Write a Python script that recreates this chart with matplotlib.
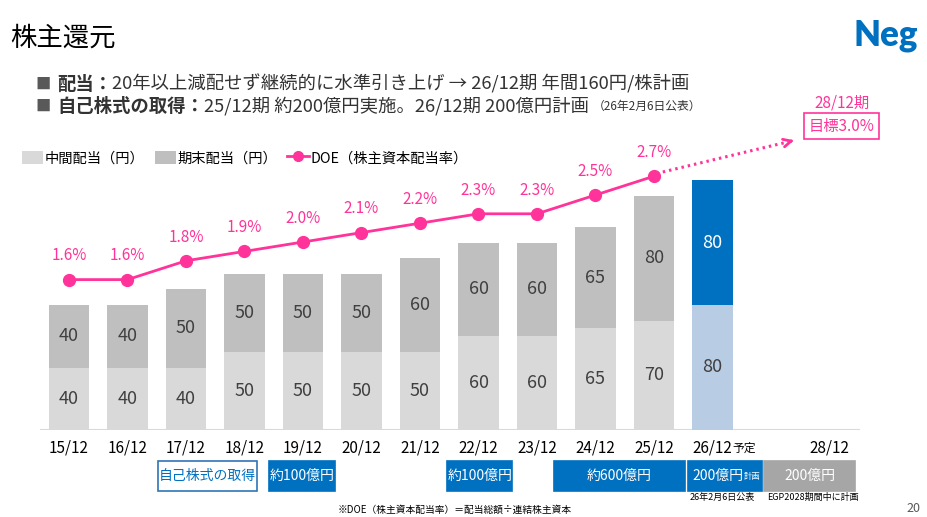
import matplotlib
matplotlib.use("Agg")
import matplotlib.pyplot as plt
from matplotlib.patches import Patch, Rectangle
from matplotlib.lines import Line2D
from matplotlib.transforms import blended_transform_factory

plt.rcParams['font.family'] = ['Noto Sans CJK JP', 'DejaVu Sans']

# data
periods = ['15/12', '16/12', '17/12', '18/12', '19/12', '20/12', '21/12',
           '22/12', '23/12', '24/12', '25/12', '26/12', '28/12']
interim = [40, 40, 40, 50, 50, 50, 50, 60, 60, 65, 70, 80]
final = [40, 40, 50, 50, 50, 50, 60, 60, 60, 65, 80, 80]
doe = [1.6, 1.6, 1.8, 1.9, 2.0, 2.1, 2.2, 2.3, 2.3, 2.5, 2.7]
doe_target = 3.0
buyback = ['自己株式の取得', '約100億円', '約100億円', '約600億円', '200億円', '200億円']

W, H = 927, 517
PINK = '#FF3399'
BLUE = '#0070C0'
TXT = '#404040'

fig = plt.figure(figsize=(W / 100, H / 100), dpi=100)
fig.patch.set_facecolor('white')


def fx(x):
    return x / W


def fy(y):
    return 1 - y / H


# axes placed in pixel terms: baseline at y=430, left 30, right 900
ax = fig.add_axes([fx(30), fy(430), fx(870), 340 / H])
ax2 = ax.twinx()
ax.set_xlim((30 - 69) / 58.5, (900 - 69) / 58.5)
ax.set_ylim(0, 340 / 1.5625)
ax2.set_ylim(0, 340 / 94.0)
for a in (ax, ax2):
    for s in a.spines.values():
        s.set_visible(False)
    a.tick_params(left=False, right=False, labelleft=False, labelright=False)
ax.set_zorder(1)
ax2.set_zorder(2)
ax.patch.set_visible(False)

# positions: 15/12..26/12 then a gap for 27/12
pos = list(range(len(interim))) + [len(interim) + 1]
bw = 0.684
bar_pos = pos[:len(interim)]
c_low = ['#D9D9D9'] * 11 + ['#B8CCE4']
c_high = ['#BFBFBF'] * 11 + [BLUE]
ax.bar(bar_pos, interim, width=bw, color=c_low, zorder=2)
ax.bar(bar_pos, final, width=bw, bottom=interim, color=c_high, zorder=2)
for i, (a, b) in enumerate(zip(interim, final)):
    ax.text(bar_pos[i], a / 2, str(a), ha='center', va='center', fontsize=13, color=TXT, zorder=3)
    ax.text(bar_pos[i], a + b / 2, str(b), ha='center', va='center', fontsize=13,
            color='white' if i == len(interim) - 1 else TXT, zorder=3)

ax.hlines(0, -0.5, 13.52, color='#D9D9D9', lw=1.5, zorder=1)

ax.set_xticks(pos)
ax.set_xticklabels(periods, fontsize=11, color='black')
ax.tick_params(axis='x', length=0, pad=7)

# "予定" next to 26/12
bt = blended_transform_factory(ax.transData, fig.transFigure)
ax.text(11.34, fy(448), '予定', transform=bt, fontsize=8.5, ha='left', va='center', color='black')

# DOE line
doe_x = list(range(len(doe)))
ax2.plot(doe_x, doe, color=PINK, lw=2, marker='o', ms=8.5, zorder=5)
for x, v in zip(doe_x, doe):
    ax2.annotate(f'{v:.1f}%', (x, v), xytext=(0, 17), textcoords='offset points',
                 ha='center', va='center', fontsize=11, color=PINK)

# target arrow
end = (12.44, 3.09)
ax2.plot([10.15, end[0] - 0.05], [2.745, end[1] - 0.01], color=PINK, lw=2.2,
         ls=(0, (0.8, 1.3)), zorder=5)
ax2.annotate('', xy=end, xytext=(end[0] - 0.15, end[1] - 0.025),
             arrowprops=dict(arrowstyle='->', color=PINK, lw=2, mutation_scale=14))
ax2.text(13.21, doe_target + 0.23, f'目標{doe_target:.1f}%', ha='center', va='center',
         fontsize=11, color=PINK,
         bbox=dict(boxstyle='square,pad=0.3', fc='white', ec=PINK, lw=1.2))
ax2.text(13.21, doe_target + 0.48, '28/12期', ha='center', va='center', fontsize=11, color=PINK)

# buyback boxes under the axis
spans = [(1.517, 3.22), (3.42, 4.55), (6.46, 7.58), (8.29, 10.53), (10.58, 11.85), (11.88, 13.44)]
styles = ['outline', 'blue', 'blue', 'blue', 'blue', 'gray']
y0, y1 = fy(490.5), fy(461)
for (a, b), lab, st in zip(spans, buyback, styles):
    if st == 'outline':
        fc, ec, tc = 'white', '#2E75B6', BLUE
    elif st == 'blue':
        fc, ec, tc = BLUE, BLUE, 'white'
    else:
        fc, ec, tc = '#A6A6A6', '#A6A6A6', 'white'
    r = Rectangle((a, y0), b - a, y1 - y0, transform=bt, fc=fc, ec=ec, lw=1.2, clip_on=False)
    ax.add_patch(r)
    cx = (a + b) / 2
    if st == 'blue' and lab == '200億円':
        ax.text(cx - 0.12, (y0 + y1) / 2, lab, transform=bt, ha='center', va='center',
                fontsize=10, color=tc)
        ax.text(cx + 0.46, (y0 + y1) / 2 - 0.002, '計画', transform=bt, ha='center', va='center',
                fontsize=6, color=tc)
    else:
        ax.text(cx, (y0 + y1) / 2, lab, transform=bt, ha='center', va='center',
                fontsize=10, color=tc)

fig.text(fx(722), fy(497), '26年2月6日公表', ha='center', va='center', fontsize=6.5, color='black')
fig.text(fx(813), fy(497), 'EGP2028期間中に計画', ha='center', va='center', fontsize=6.5, color='black')
fig.text(fx(455), fy(510), '※DOE（株主資本配当率）＝配当総額÷連結株主資本', ha='center', va='center',
         fontsize=7, color='black')
fig.text(fx(913), fy(509), '20', ha='center', va='center', fontsize=9, color='#595959')

# title and logo
fig.text(fx(10), fy(38), '株主還元', ha='left', va='center', fontsize=19, color='black')
fig.text(fx(918), fy(36), 'Neg', ha='right', va='center', fontsize=25, color=BLUE,
         family=['Lato', 'DejaVu Sans'], weight='heavy')

# bullet lines with mixed weights
renderer = fig.canvas.get_renderer()


def run_text(x, y, parts):
    for s, kw in parts:
        t = fig.text(fx(x), fy(y), s, ha='left', va='center', **kw)
        x += t.get_window_extent(renderer).width


reg = dict(fontsize=13.2, color='#333333')
bold = dict(fontsize=13.2, color='#333333', weight='bold')
sq = dict(fontsize=11, color='#595959')
for y, parts in [(84, [('配当：', bold),
                       ('20年以上減配せず継続的に水準引き上げ → 26/12期 年間160円/株計画', reg)]),
                 (106, [('自己株式の取得：', bold),
                        ('25/12期 約200億円実施。26/12期 200億円計画 ', reg),
                        ('（26年2月6日公表）', dict(fontsize=8.5, color='#333333'))])]:
    fig.text(fx(35), fy(y), '■', ha='left', va='center', **sq)
    run_text(57, y, parts)

# legend
handles = [Patch(fc='#D9D9D9'), Patch(fc='#BFBFBF'),
           Line2D([], [], color=PINK, lw=2, marker='o', ms=7)]
fig.legend(handles, ['中間配当（円）', '期末配当（円）', 'DOE（株主資本配当率）'],
           loc='center left', bbox_to_anchor=(fx(22), fy(158)), ncol=3, frameon=False,
           fontsize=10.3, handlelength=1.5, handleheight=1.0, handletextpad=0.1,
           columnspacing=0.7, borderaxespad=0, borderpad=0)

fig.savefig('out.png', dpi=100)
